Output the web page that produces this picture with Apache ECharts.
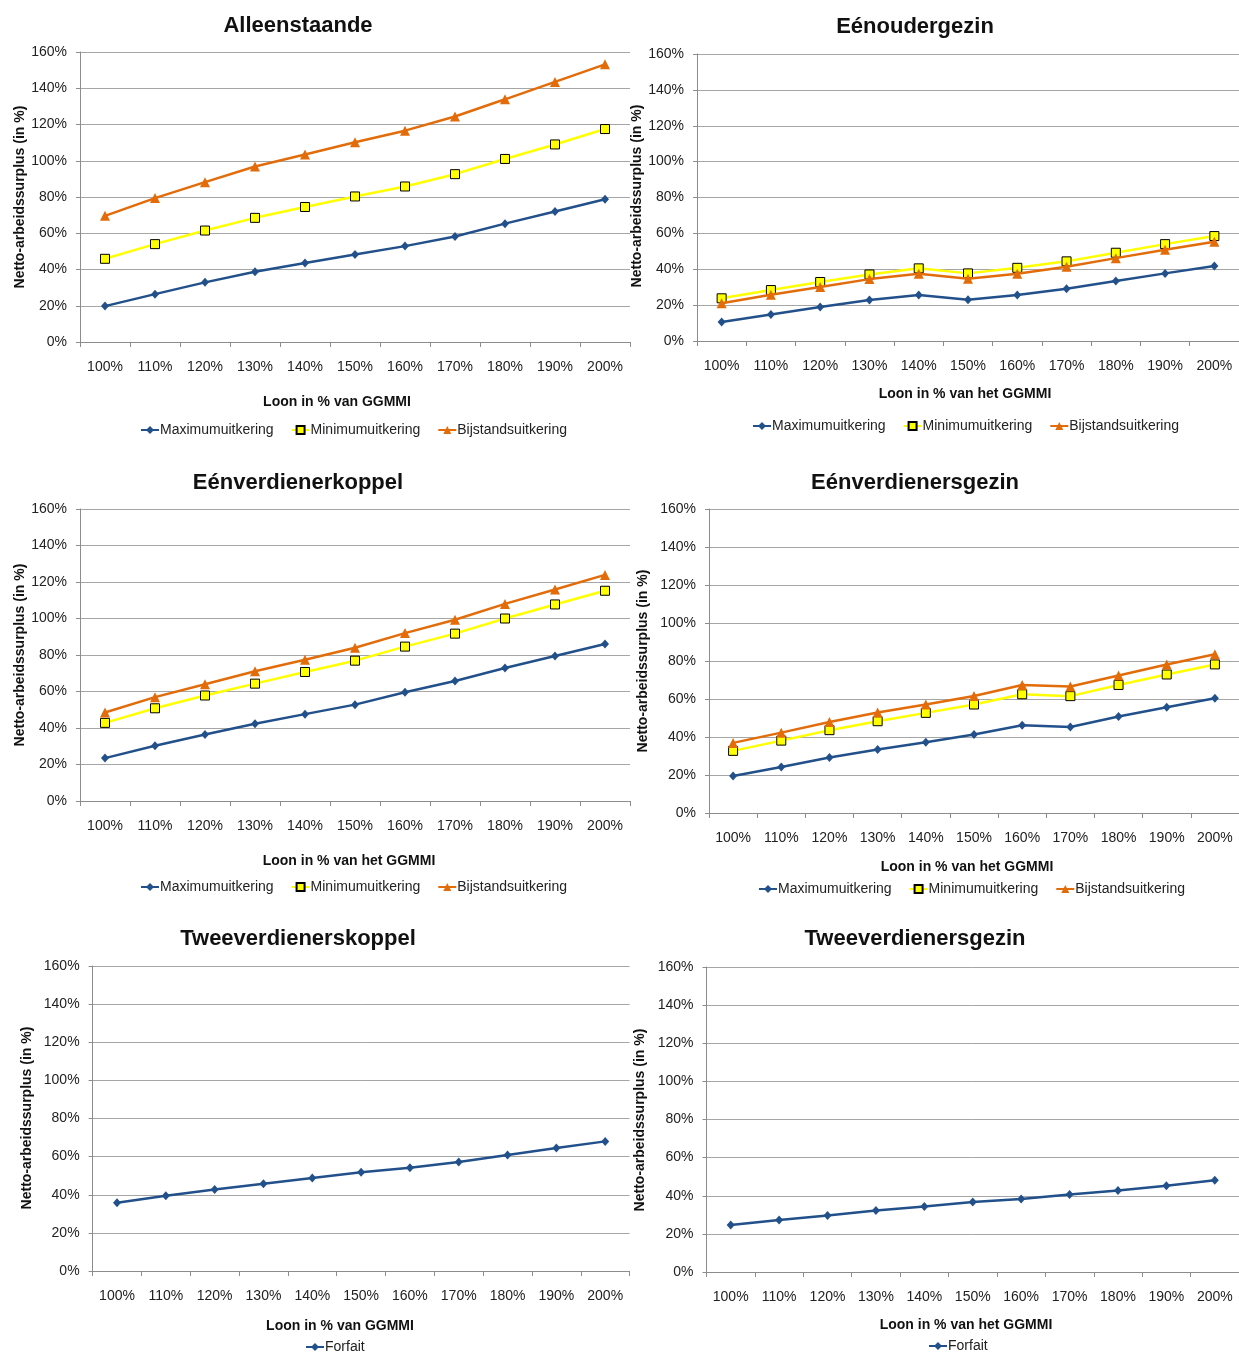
<!DOCTYPE html>
<html>
<head>
<meta charset="utf-8">
<script src="https://cdn.jsdelivr.net/npm/echarts@6/dist/echarts.min.js"></script>
<style>
html,body{margin:0;padding:0;background:#fff;}
#chart{width:1239px;height:1356px;}
</style>
</head>
<body>
<div id="chart"></div>
<script>
// ---- Data ----
const categories = ['100%','110%','120%','130%','140%','150%','160%','170%','180%','190%','200%'];
const yTicks = [0,20,40,60,80,100,120,140,160];

const titles = ['Alleenstaande','Eénoudergezin','Eénverdienerkoppel','Eénverdienersgezin','Tweeverdienerskoppel','Tweeverdienersgezin'];
const xNames = ['Loon in % van GGMMI','Loon in % van het GGMMI','Loon in % van het GGMMI','Loon in % van het GGMMI','Loon in % van GGMMI','Loon in % van het GGMMI'];
const yName = 'Netto-arbeidssurplus (in %)';
const seriesNames = ['Maximumuitkering','Minimumuitkering','Bijstandsuitkering'];
const forfaitName = 'Forfait';

const alleenMax = [19.8,26.4,32.9,38.8,43.6,48.3,52.9,58.2,65.3,72.0,78.8];
const alleenMin = [45.9,54.0,61.5,68.5,74.5,80.3,85.8,92.6,101.0,109.0,117.5];
const alleenBij = [69.6,79.4,88.2,96.8,103.4,110.2,116.6,124.4,133.9,143.5,153.2];

const eenouderMax = [10.6,14.8,18.9,22.8,25.6,23.0,25.6,29.1,33.4,37.7,41.8];
const eenouderMin = [23.8,28.4,32.9,37.1,40.5,37.7,40.8,44.4,49.2,54.0,58.5];
const eenouderBij = [21.0,25.8,30.1,34.5,37.5,34.7,37.5,41.4,46.2,50.9,55.3];

const koppelMax = [23.5,30.3,36.4,42.3,47.6,52.8,59.6,65.8,72.9,79.5,86.0];
const koppelMin = [42.8,50.8,57.8,64.3,70.7,76.9,84.6,91.7,100.0,107.7,115.2];
const koppelBij = [48.5,56.9,64.0,71.1,77.4,84.0,92.0,99.3,108.0,115.9,123.9];

const gezinMax = [19.5,24.2,29.2,33.4,37.2,41.3,46.2,45.3,50.8,55.7,60.4];
const gezinMin = [32.7,38.1,43.6,48.3,52.7,57.1,62.5,61.5,67.4,72.9,78.2];
const gezinBij = [36.9,42.3,47.9,52.9,57.1,61.6,67.4,66.6,72.4,78.2,83.6];

const tweeKoppelForfait = [35.8,39.5,42.8,45.8,48.8,51.8,54.2,57.2,60.9,64.5,68.0];
const tweeGezinForfait = [24.7,27.3,29.7,32.3,34.4,36.7,38.3,40.6,42.8,45.3,48.1];

// ---- Layout / style ----
const SANS = "'Liberation Sans',Arial,sans-serif";
const C_MAX = '#22508B', C_MIN = '#FFFF00', C_BIJ = '#E36C0A';
const GRID_C = '#A6A6A6', AXIS_C = '#8C8C8C';

const grids = [
  {left:80, top:52, width:550, height:290},
  {left:697, top:54, width:548, height:287},
  {left:80, top:509, width:550, height:292},
  {left:709, top:509, width:532, height:304},
  {left:92.6, top:966, width:537, height:305},
  {left:706.5, top:967, width:538, height:305}
];
const titlePos = [[298,26],[915,27],[298,483],[915,483],[298,939],[915,939]];
const xNamePos = [[337,402],[965,394],[349,861],[967,867],[340,1326],[966,1325]];
const yNamePos = [[20,197],[637,196],[20,655],[643,661],[27,1118],[640,1120]];
const legendPos = [[140,432],[752,428],[140,889],[758,891],[305,1349],[928,1348]];

const xAxes = grids.map((g,i)=>({
  type:'category', gridIndex:i, data:categories, boundaryGap:true,
  axisLine:{show:true, lineStyle:{color:AXIS_C, width:1}},
  axisTick:{show:true, length:5, lineStyle:{color:AXIS_C}},
  axisLabel:{margin:18, fontFamily:SANS, fontSize:14, color:'#222', interval:0},
  splitLine:{show:false}
}));
const yAxes = grids.map((g,i)=>({
  type:'value', gridIndex:i, min:0, max:160, interval:20,
  axisLine:{show:true, lineStyle:{color:AXIS_C, width:1}},
  axisTick:{show:true, length:4, lineStyle:{color:AXIS_C}},
  axisLabel:{margin:13, fontFamily:SANS, fontSize:14, color:'#222', formatter:'{value}%'},
  splitLine:{show:true, lineStyle:{color:GRID_C, width:1}}
}));

function mkMax(i,data,name){return {name:name||seriesNames[0], type:'line', xAxisIndex:i, yAxisIndex:i, data:data,
  symbol:'diamond', symbolSize:[8,9], lineStyle:{color:C_MAX,width:2.5}, itemStyle:{color:C_MAX}, z:4, animation:false};}
function mkMin(i,data){return {name:seriesNames[1], type:'line', xAxisIndex:i, yAxisIndex:i, data:data,
  symbol:'rect', symbolSize:9, lineStyle:{color:C_MIN,width:2.5}, itemStyle:{color:C_MIN,borderColor:'#000',borderWidth:1}, z:3, animation:false};}
function mkBij(i,data){return {name:seriesNames[2], type:'line', xAxisIndex:i, yAxisIndex:i, data:data,
  symbol:'triangle', symbolSize:10, lineStyle:{color:C_BIJ,width:2.5}, itemStyle:{color:C_BIJ}, z:5, animation:false};}

const series = [
  mkMax(0,alleenMax), mkMin(0,alleenMin), mkBij(0,alleenBij),
  mkMax(1,eenouderMax), mkMin(1,eenouderMin), mkBij(1,eenouderBij),
  mkMax(2,koppelMax), mkMin(2,koppelMin), mkBij(2,koppelBij),
  mkMax(3,gezinMax), mkMin(3,gezinMin), mkBij(3,gezinBij),
  mkMax(4,tweeKoppelForfait,forfaitName),
  mkMax(5,tweeGezinForfait,forfaitName)
];

const legends = legendPos.map((p,i)=>({
  left:p[0], top:p[1]-9, padding:0, itemGap:17, itemWidth:18, itemHeight:10, width:600,
  data: i<4 ? seriesNames : [forfaitName],
  textStyle:{fontFamily:SANS, fontSize:14, color:'#222', padding:[0,0,0,-4]},
  selectedMode:false
}));

const graphics = [];
titles.forEach((t,i)=>graphics.push({type:'text', x:titlePos[i][0], y:titlePos[i][1],
  style:{text:t, fontFamily:SANS, fontSize:22, fontWeight:'bold', fill:'#111', align:'center', verticalAlign:'middle'}}));
xNames.forEach((t,i)=>graphics.push({type:'text', x:xNamePos[i][0], y:xNamePos[i][1],
  style:{text:t, fontFamily:SANS, fontSize:14, fontWeight:'bold', fill:'#111', align:'center', verticalAlign:'middle'}}));
yNamePos.forEach((p,i)=>graphics.push({type:'text', x:p[0], y:p[1], rotation:Math.PI/2,
  style:{text:yName, fontFamily:SANS, fontSize:14, fontWeight:'bold', fill:'#111', align:'center', verticalAlign:'middle'}}));

const chart = echarts.init(document.getElementById('chart'), null, {renderer:'canvas'});
chart.setOption({
  backgroundColor:'#fff',
  animation:false,
  grid:grids,
  xAxis:xAxes,
  yAxis:yAxes,
  legend:legends,
  series:series,
  graphic:graphics
});
</script>
</body>
</html>
